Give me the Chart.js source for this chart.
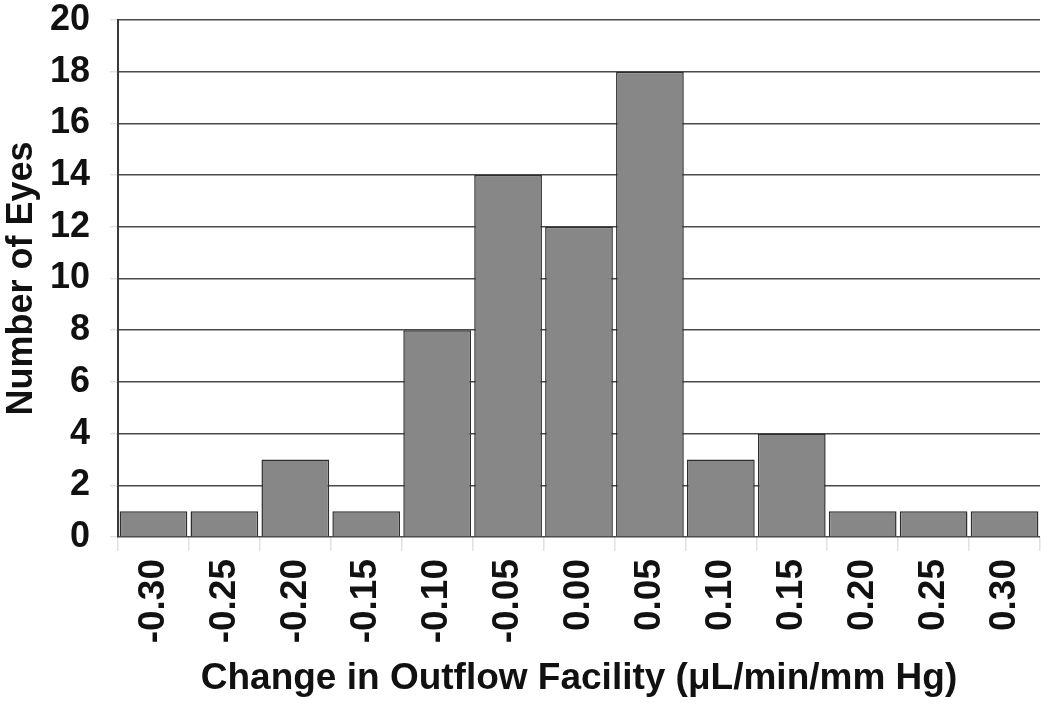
<!DOCTYPE html>
<html>
<head>
<meta charset="utf-8">
<script src="https://cdn.jsdelivr.net/npm/chart.js@4/dist/chart.umd.min.js"></script>
<style>
html,body{margin:0;padding:0;background:#fff;}
#wrap{width:1050px;height:705px;}
</style>
</head>
<body>
<div id="wrap"><canvas id="c" width="1050" height="705"></canvas></div>
<script>
const categories = ["-0.30","-0.25","-0.20","-0.15","-0.10","-0.05","0.00","0.05","0.10","0.15","0.20","0.25","0.30"];
const eyeCounts = [1,1,3,1,8,14,12,18,3,4,1,1,1];
const yTicks = [0,2,4,6,8,10,12,14,16,18,20];

const FONT = "'Liberation Sans', Arial, sans-serif";

new Chart(document.getElementById('c'), {
  type: 'bar',
  data: {
    labels: categories,
    datasets: [{
      data: eyeCounts,
      backgroundColor: '#878787',
      borderColor: '#2e2e2e',
      borderWidth: 1.5,
      barPercentage: 0.955,
      categoryPercentage: 1.0
    }]
  },
  options: {
    responsive: false,
    animation: false,
    devicePixelRatio: 1,
    layout: { padding: { top: 20, right: 10, left: 0, bottom: 0 } },
    plugins: { legend: { display: false }, tooltip: { enabled: false } },
    scales: {
      x: {
        afterFit: (scale) => { scale.height = 168; scale.paddingLeft = 0; scale.paddingRight = 0; },
        grid: {
          offset: true,
          drawOnChartArea: true,
          color: (ctx) => (ctx.index === categories.length ? '#b5b5b5' : 'rgba(0,0,0,0)'),
          tickColor: '#e2e2e2',
          tickLength: 14,
          lineWidth: 1.5
        },
        border: { display: false },
        ticks: {
          minRotation: 90,
          maxRotation: 90,
          color: '#111',
          padding: 8,
          font: { family: FONT, weight: 'bold', size: 37 }
        },
        title: {
          display: true,
          text: 'Change in Outflow Facility (\u03BCL/min/mm Hg)',
          color: '#111',
          font: { family: FONT, weight: 'bold', size: 37 },
          padding: { top: 4, bottom: 4 }
        }
      },
      y: {
        min: 0,
        max: 20,
        afterFit: (scale) => { scale.width = 118; scale.paddingTop = 0; scale.paddingBottom = 0; },
        afterBuildTicks: (scale) => { scale.ticks = yTicks.map(v => ({ value: v })); },
        grid: {
          color: '#4a4a4a',
          tickColor: '#e2e2e2',
          tickLength: 8,
          lineWidth: 1.5
        },
        border: { display: true, color: '#3a3a3a', width: 2 },
        ticks: {
          color: '#111',
          padding: 20,
          font: { family: FONT, weight: 'bold', size: 36 }
        },
        title: {
          display: true,
          text: 'Number of Eyes',
          color: '#111',
          font: { family: FONT, weight: 'bold', size: 36 },
          padding: { top: 0, bottom: 4 }
        }
      }
    }
  }
});
</script>
</body>
</html>
